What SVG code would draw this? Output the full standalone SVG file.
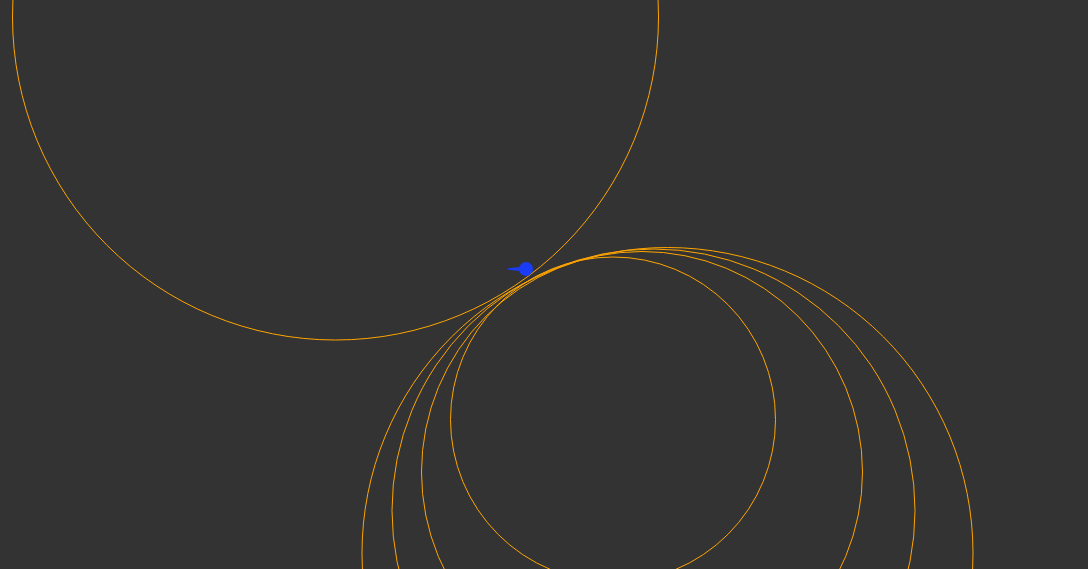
<svg xmlns="http://www.w3.org/2000/svg" width="1088" height="569" viewBox="0 0 1088 569">
<style>
.c{fill:none;stroke:#ffa500;stroke-width:1}
.b{fill:#1a3cf5}
</style>
<rect width="1088" height="569" fill="#333333"/>
<g id="circles">
<circle class="c" cx="335.5" cy="17" r="323"/>
<circle class="c" cx="613" cy="419.5" r="162.5"/>
<circle class="c" cx="642" cy="472" r="220.5"/>
<circle class="c" cx="653.5" cy="510.5" r="261.5"/>
<circle class="c" cx="667.5" cy="553" r="305.5"/>
</g>
<g id="ball">
<polygon class="b" points="508,268.3 520,267 520,271 508,269.7"/>
<circle class="b" cx="526" cy="269" r="7"/>
</g>
</svg>
